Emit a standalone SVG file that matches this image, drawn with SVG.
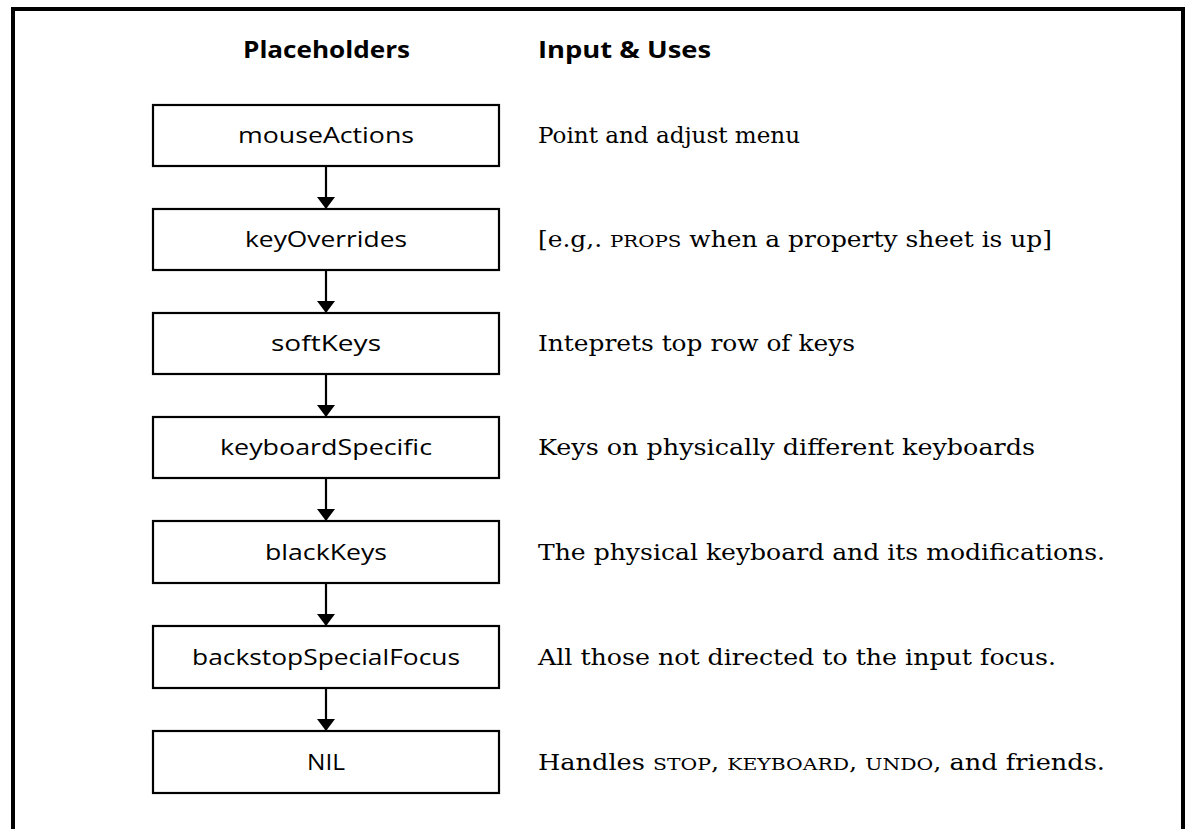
<svg xmlns="http://www.w3.org/2000/svg" width="1187" height="829" viewBox="0 0 1187 829">
  <style>
    .frame { fill: none; stroke: #000; stroke-width: 4; }
    .box { fill: #fff; stroke: #000; stroke-width: 2.2; }
    .head { font-family: "Open Sans", "Noto Sans", sans-serif; font-weight: bold; font-size: 24px; fill: #000; }
    .lbl { font-family: "Open Sans", "Noto Sans", sans-serif; font-size: 21px; fill: #000; text-anchor: middle; }
    .use { font-family: "DejaVu Serif", "Liberation Serif", serif; font-size: 22px; fill: #000; }
    .sc { font-size: 17.5px; }
    .link { stroke: #000; stroke-width: 2.2; fill: none; marker-end: url(#arrow); }
  </style>
  <defs>
    <marker id="arrow" markerWidth="12" markerHeight="18" refX="12" refY="9" orient="auto" markerUnits="userSpaceOnUse">
      <path d="M0,0 L12,9 L0,18 Z" fill="#000"/>
    </marker>
  </defs>

  <rect width="1187" height="829" fill="#fff"/>

  <!-- outer frame, open at the bottom -->
  <path class="frame" d="M13,829 V9 H1183 V829"/>

  <!-- column headings -->
  <text class="head" x="243" y="58" textLength="167" lengthAdjust="spacingAndGlyphs">Placeholders</text>
  <text class="head" x="538" y="58" textLength="173" lengthAdjust="spacingAndGlyphs">Input &amp; Uses</text>

  <!-- connectors -->
  <g id="connectors">
    <line class="link" x1="326" y1="166" x2="326" y2="209"/>
    <line class="link" x1="326" y1="270" x2="326" y2="313"/>
    <line class="link" x1="326" y1="374" x2="326" y2="417"/>
    <line class="link" x1="326" y1="478" x2="326" y2="521"/>
    <line class="link" x1="326" y1="583" x2="326" y2="626"/>
    <line class="link" x1="326" y1="688" x2="326" y2="731"/>
  </g>

  <g id="mouseActions">
    <rect class="box" x="153" y="105" width="346" height="61"/>
    <text class="lbl" x="326" y="143" textLength="176" lengthAdjust="spacingAndGlyphs">mouseActions</text>
    <text class="use" x="538" y="143" textLength="262" lengthAdjust="spacingAndGlyphs">Point and adjust menu</text>
  </g>

  <g id="keyOverrides">
    <rect class="box" x="153" y="209" width="346" height="61"/>
    <text class="lbl" x="326" y="247" textLength="162" lengthAdjust="spacingAndGlyphs">keyOverrides</text>
    <text class="use" x="538" y="247" textLength="514" lengthAdjust="spacingAndGlyphs">[e.g,. <tspan class="sc">PROPS</tspan> when a property sheet is up]</text>
  </g>

  <g id="softKeys">
    <rect class="box" x="153" y="313" width="346" height="61"/>
    <text class="lbl" x="326" y="351" textLength="110" lengthAdjust="spacingAndGlyphs">softKeys</text>
    <text class="use" x="538" y="351" textLength="317" lengthAdjust="spacingAndGlyphs">Inteprets top row of keys</text>
  </g>

  <g id="keyboardSpecific">
    <rect class="box" x="153" y="417" width="346" height="61"/>
    <text class="lbl" x="326" y="455" textLength="212" lengthAdjust="spacingAndGlyphs">keyboardSpecific</text>
    <text class="use" x="538" y="455" textLength="497" lengthAdjust="spacingAndGlyphs">Keys on physically different keyboards</text>
  </g>

  <g id="blackKeys">
    <rect class="box" x="153" y="521" width="346" height="62"/>
    <text class="lbl" x="326" y="560" textLength="122" lengthAdjust="spacingAndGlyphs">blackKeys</text>
    <text class="use" x="538" y="560" textLength="567" lengthAdjust="spacingAndGlyphs">The physical keyboard and its modifications.</text>
  </g>

  <g id="backstopSpecialFocus">
    <rect class="box" x="153" y="626" width="346" height="62"/>
    <text class="lbl" x="326" y="665" textLength="268" lengthAdjust="spacingAndGlyphs">backstopSpecialFocus</text>
    <text class="use" x="538" y="665" textLength="518" lengthAdjust="spacingAndGlyphs">All those not directed to the input focus.</text>
  </g>

  <g id="NIL">
    <rect class="box" x="153" y="731" width="346" height="62"/>
    <text class="lbl" x="326" y="770" textLength="38" lengthAdjust="spacingAndGlyphs">NIL</text>
    <text class="use" x="538" y="770" textLength="567" lengthAdjust="spacingAndGlyphs">Handles <tspan class="sc">STOP</tspan>, <tspan class="sc">KEYBOARD</tspan>, <tspan class="sc">UNDO</tspan>, and friends.</text>
  </g>
</svg>
